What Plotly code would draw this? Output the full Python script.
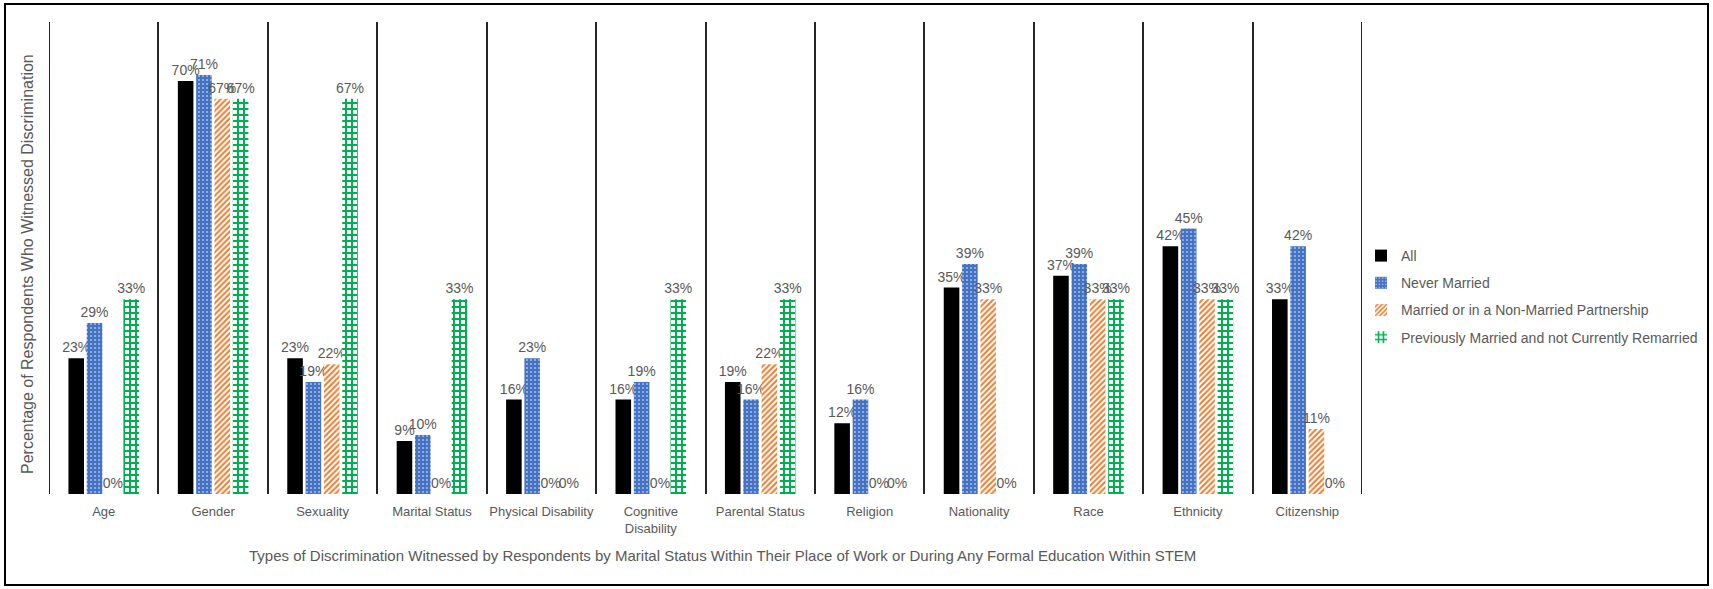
import plotly.graph_objects as go

categories = ["Age", "Gender", "Sexuality", "Marital Status", "Physical Disability",
              "Cognitive<br>Disability", "Parental Status", "Religion", "Nationality",
              "Race", "Ethnicity", "Citizenship"]
series_names = ["All", "Never Married", "Married or in a Non-Married Partnership",
                "Previously Married and not Currently Remarried"]
all_vals = [23, 70, 23, 9, 16, 16, 19, 12, 35, 37, 42, 33]
never_vals = [29, 71, 19, 10, 23, 19, 16, 16, 39, 39, 45, 42]
married_vals = [0, 67, 22, 0, 0, 0, 22, 0, 33, 33, 33, 11]
prev_vals = [33, 67, 67, 33, 0, 33, 33, 0, 0, 33, 33, 0]

x_title = ("Types of Discrimination Witnessed by Respondents by Marital Status Within "
           "Their Place of Work or During Any Formal Education Within STEM")
y_title = "Percentage of Respondents Who Witnessed Discrimination"

GRAY = "#595959"
FONT = "Liberation Sans"

styles = [
    dict(color="#000000"),
    dict(color="#4472C4", pattern=dict(shape=".", fillmode="replace", bgcolor="#4472C4",
                                       fgcolor="white", size=4, solidity=0.12)),
    dict(color="#ED7D31", pattern=dict(shape="/", fillmode="replace", bgcolor="white",
                                       fgcolor="#ED7D31", size=4, solidity=0.5)),
    dict(color="#00B050", pattern=dict(shape="+", fillmode="replace", bgcolor="white",
                                       fgcolor="#00B050", size=6, solidity=0.55)),
]

fig = go.Figure()
for name, vals, st in zip(series_names, [all_vals, never_vals, married_vals, prev_vals], styles):
    fig.add_trace(go.Bar(
        x=categories, y=vals, name=name, marker=dict(line=dict(width=0), **st),
        texttemplate="%{y:.0f}%", textposition="outside", constraintext="none",
        textfont=dict(color=GRAY, size=14, family=FONT), cliponaxis=False,
        legendgroup=name,
    ))

L, R, T, B = 49, 1362, 22, 494
W, H = 1713, 589
pw, ph = R - L, B - T

fig.update_layout(
    width=W, height=H,
    margin=dict(l=L, r=W - R, t=T, b=H - B, autoexpand=False),
    paper_bgcolor="white", plot_bgcolor="white",
    barmode="group", bargap=0.33, bargroupgap=0.15,
    font=dict(family=FONT, color=GRAY, size=13),
    showlegend=True,
    legend=dict(x=(1361 - L) / pw, xanchor="left", y=(B - 240) / ph, yanchor="top",
                font=dict(size=14, color=GRAY, family=FONT), tracegroupgap=6,
                bgcolor="rgba(0,0,0,0)"),
    xaxis=dict(tickson="boundaries", showgrid=True, gridcolor="#262626", gridwidth=2,
               ticks="", showline=False, zeroline=False, tickangle=0, automargin=False,
               ticklabelstandoff=8,
               tickfont=dict(size=13, color=GRAY, family=FONT),
               range=[-0.5, len(categories) - 0.5]),
    yaxis=dict(range=[0, 80], showgrid=False, showticklabels=False, ticks="",
               zeroline=False, showline=False, automargin=False),
)

# Axis titles (placed as in the reference, slightly off-centre)
fig.add_annotation(text=x_title, xref="paper", yref="paper",
                   x=(722 - L) / pw, y=(B - 555) / ph, xanchor="center", yanchor="middle",
                   showarrow=False, font=dict(size=15, color=GRAY, family=FONT))
fig.add_annotation(text=y_title, xref="paper", yref="paper", textangle=-90,
                   x=(27 - L) / pw, y=(B - 264) / ph, xanchor="center", yanchor="middle",
                   showarrow=False, font=dict(size=16, color=GRAY, family=FONT))

# Outer chart border
fig.add_shape(type="rect", xref="paper", yref="paper",
              x0=(5 - L) / pw, x1=(1708 - L) / pw, y0=(B - 585) / ph, y1=(B - 4) / ph,
              line=dict(color="#000000", width=2), fillcolor="rgba(0,0,0,0)", layer="below")
# Category separator lines at the plot edges
for xb in [-0.5, len(categories) - 0.5]:
    fig.add_shape(type="line", xref="x", yref="paper", x0=xb, x1=xb, y0=0, y1=1,
                  line=dict(color="#262626", width=2))

fig.write_html("out.html")
